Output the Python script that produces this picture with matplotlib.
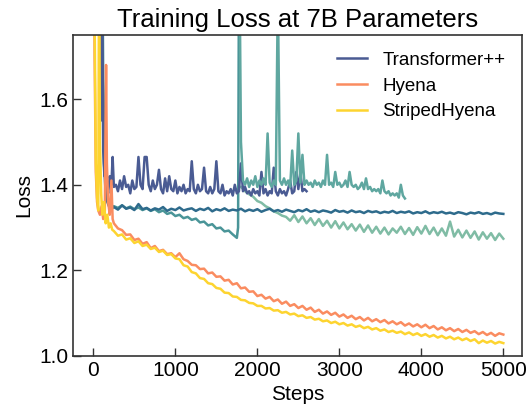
import numpy as np
import matplotlib.pyplot as plt

plt.rcParams['font.family'] = ['Liberation Sans', 'DejaVu Sans']

# ---- data (steps, loss) ----
# Transformer++ (navy, shown in legend)
tpp_steps = [60, 75, 90, 105, 120, 135, 150, 165, 180, 200, 220, 235] + list(range(250, 2601, 25))
tpp_loss = [2.2, 1.75, 1.55, 1.90, 1.48, 1.42, 1.46, 1.40, 1.38, 1.42, 1.40, 1.465,
            1.395, 1.400, 1.385, 1.410, 1.390, 1.420, 1.395, 1.400, 1.380, 1.410,
            1.390, 1.395, 1.465, 1.400, 1.390, 1.465, 1.465, 1.400, 1.385, 1.410,
            1.390, 1.400, 1.435, 1.390, 1.380, 1.415, 1.385, 1.420, 1.390, 1.385,
            1.410, 1.380, 1.395, 1.385, 1.400, 1.380, 1.390, 1.385, 1.455, 1.390,
            1.380, 1.400, 1.385, 1.390, 1.440, 1.385, 1.380, 1.395, 1.380, 1.390,
            1.455, 1.385, 1.380, 1.400, 1.375, 1.385, 1.380, 1.390, 1.375, 1.400,
            1.380, 1.385, 1.450, 1.385, 1.395, 1.380, 1.385, 1.375, 1.390, 1.380,
            1.385, 1.375, 1.430, 1.380, 1.390, 1.375, 1.385, 1.380, 1.440, 1.385,
            1.375, 1.390, 1.380, 1.385, 1.375, 1.390, 1.410, 1.380, 1.385, 1.430,
            1.390, 1.430, 1.385, 1.390, 1.385]

# other Transformer++ runs (teal shades, no legend entry)
run_b_steps = [90, 110, 130, 150, 170, 190, 210, 230] + list(range(250, 5001, 50))
run_b_loss = [2.2, 1.70, 1.45, 1.38, 1.36, 1.35, 1.355, 1.345,
              1.348, 1.342, 1.352, 1.344, 1.347, 1.341, 1.355, 1.343, 1.346, 1.340,
              1.345, 1.342, 1.348, 1.339, 1.344, 1.341, 1.347, 1.340, 1.343, 1.345,
              1.339, 1.344, 1.341, 1.346, 1.338, 1.343, 1.340, 1.345, 1.339, 1.342,
              1.340, 1.344, 1.338, 1.342, 1.339, 1.343, 1.337, 1.341, 1.344, 1.338,
              1.341, 1.337, 1.342, 1.339, 1.336, 1.341, 1.338, 1.343, 1.337, 1.340,
              1.336, 1.340, 1.338, 1.335, 1.341, 1.337, 1.339, 1.335, 1.340, 1.336,
              1.338, 1.334, 1.339, 1.336, 1.338, 1.334, 1.337, 1.335, 1.339, 1.334,
              1.337, 1.335, 1.338, 1.333, 1.336, 1.334, 1.338, 1.333, 1.336, 1.334,
              1.337, 1.333, 1.335, 1.332, 1.336, 1.334, 1.331, 1.335, 1.333, 1.336,
              1.332, 1.334, 1.331, 1.335, 1.333, 1.332]

run_c_steps = [100, 120, 140, 160, 180, 200, 225] + list(range(250, 1751, 50)) + [1765, 1775]
run_c_loss = [2.2, 1.65, 1.45, 1.38, 1.36, 1.35, 1.35,
              1.350, 1.346, 1.352, 1.345, 1.349, 1.343, 1.347, 1.341, 1.345, 1.339,
              1.343, 1.336, 1.340, 1.332, 1.335, 1.327, 1.330, 1.322, 1.325, 1.318,
              1.321, 1.312, 1.314, 1.305, 1.308, 1.298, 1.300, 1.291, 1.293, 1.284, 1.276,
              1.30, 1.85]

run_d_steps = [1785] + list(range(1800, 3801, 25))
run_d_loss = [1.85,
              1.50, 1.41, 1.40, 1.415, 1.395, 1.41, 1.40, 1.42, 1.395, 1.41,
              1.40, 1.415, 1.40, 1.52, 1.405, 1.395, 1.41, 1.40, 1.85, 1.41,
              1.40, 1.415, 1.40, 1.41, 1.395, 1.48, 1.40, 1.41, 1.52, 1.405,
              1.47, 1.40, 1.41, 1.40, 1.405, 1.395, 1.41, 1.40, 1.405, 1.395,
              1.41, 1.40, 1.47, 1.40, 1.405, 1.395, 1.43, 1.40, 1.405, 1.395,
              1.40, 1.41, 1.395, 1.43, 1.40, 1.395, 1.40, 1.39, 1.395, 1.405,
              1.39, 1.415, 1.39, 1.395, 1.385, 1.39, 1.385, 1.39, 1.38, 1.41,
              1.385, 1.38, 1.385, 1.375, 1.38, 1.375, 1.38, 1.37, 1.40, 1.375,
              1.368]

run_e_steps = list(range(1800, 5001, 50))
run_e_loss = [1.395, 1.385, 1.378, 1.372, 1.362, 1.358, 1.350, 1.345, 1.338, 1.334,
              1.328, 1.325, 1.316, 1.329, 1.313, 1.326, 1.310, 1.322, 1.306, 1.320,
              1.304, 1.316, 1.300, 1.315, 1.298, 1.312, 1.296, 1.308, 1.293, 1.307,
              1.290, 1.305, 1.288, 1.302, 1.286, 1.300, 1.284, 1.298, 1.288, 1.302,
              1.285, 1.299, 1.283, 1.301, 1.286, 1.304, 1.285, 1.300, 1.282, 1.298,
              1.281, 1.314, 1.279, 1.295, 1.277, 1.293, 1.276, 1.291, 1.272, 1.289,
              1.274, 1.287, 1.271, 1.286, 1.274]

hyena_steps = [0, 15, 30, 45, 60, 80, 100, 120, 140, 155, 165, 180, 200, 220, 235] + list(range(250, 5001, 50))
hyena_loss = [2.3, 1.70, 1.43, 1.36, 1.34, 1.33, 1.35, 1.32, 1.34, 1.68, 1.45, 1.36, 1.33, 1.41, 1.32,
              1.310, 1.298, 1.294, 1.283, 1.284, 1.271, 1.274, 1.262, 1.266, 1.252,
              1.257, 1.245, 1.248, 1.238, 1.240, 1.231, 1.240, 1.226, 1.222, 1.213,
              1.212, 1.203, 1.204, 1.193, 1.195, 1.185, 1.186, 1.176, 1.178, 1.167,
              1.170, 1.158, 1.160, 1.150, 1.151, 1.140, 1.143, 1.134, 1.138, 1.128,
              1.132, 1.122, 1.127, 1.117, 1.121, 1.112, 1.117, 1.108, 1.113, 1.103,
              1.108, 1.099, 1.104, 1.096, 1.101, 1.092, 1.097, 1.089, 1.094, 1.086,
              1.091, 1.083, 1.089, 1.081, 1.086, 1.079, 1.084, 1.076, 1.081, 1.074,
              1.079, 1.071, 1.076, 1.069, 1.074, 1.067, 1.073, 1.065, 1.070, 1.062,
              1.067, 1.060, 1.065, 1.058, 1.063, 1.056, 1.061, 1.054, 1.058, 1.051,
              1.056, 1.049, 1.054, 1.047, 1.053, 1.050]

striped_steps = [0, 15, 30, 45, 60, 70, 80, 95, 110, 130, 150, 170, 190, 210, 230] + list(range(250, 5001, 50))
striped_loss = [2.3, 1.80, 1.45, 1.37, 1.34, 1.95, 1.50, 1.38, 1.33, 1.36, 1.31, 1.33, 1.30, 1.31, 1.295,
                1.292, 1.281, 1.284, 1.272, 1.275, 1.264, 1.268, 1.257, 1.260, 1.250,
                1.253, 1.243, 1.246, 1.236, 1.238, 1.228, 1.226, 1.212, 1.209, 1.196,
                1.193, 1.182, 1.180, 1.170, 1.168, 1.159, 1.157, 1.148, 1.147, 1.139,
                1.138, 1.131, 1.130, 1.124, 1.123, 1.117, 1.117, 1.111, 1.112, 1.106,
                1.107, 1.101, 1.103, 1.097, 1.099, 1.093, 1.095, 1.089, 1.091, 1.085,
                1.087, 1.081, 1.083, 1.077, 1.080, 1.074, 1.077, 1.071, 1.074, 1.068,
                1.071, 1.065, 1.068, 1.062, 1.065, 1.059, 1.062, 1.056, 1.059, 1.054,
                1.057, 1.051, 1.055, 1.049, 1.053, 1.047, 1.051, 1.045, 1.049, 1.043,
                1.047, 1.041, 1.045, 1.039, 1.043, 1.037, 1.041, 1.035, 1.039, 1.030,
                1.036, 1.031, 1.035, 1.029, 1.033, 1.030]

fig = plt.figure(figsize=(5.28, 4.12), dpi=100)
ax = fig.add_axes([0.138, 0.136, 0.851, 0.779])

lw = 1.8
ax.plot(run_e_steps, run_e_loss, color='#80bca5', lw=lw)
ax.plot(run_c_steps, run_c_loss, color='#4a9598', lw=lw)
ax.plot(run_b_steps, run_b_loss, color='#2e6b8c', lw=lw)
ax.plot(tpp_steps, tpp_loss, color='#4a5b93', lw=lw, label='Transformer++')
ax.plot(run_d_steps, run_d_loss, color='#5fa7a0', lw=lw)
ax.plot(hyena_steps, hyena_loss, color='#fa8c60', lw=lw, label='Hyena')
ax.plot(striped_steps, striped_loss, color='#fdd430', lw=lw, label='StripedHyena')

ax.set_xlim(-250, 5230)
ax.set_ylim(1.0, 1.75)
ax.set_xticks([0, 1000, 2000, 3000, 4000, 5000])
ax.set_yticks([1.0, 1.2, 1.4, 1.6])
ax.tick_params(direction='in', length=5.5, width=1, labelsize=15, colors='#333333', labelcolor='black')
for s in ax.spines.values():
    s.set_color('#333333')
    s.set_linewidth(1.2)

ax.set_xlabel('Steps', fontsize=15)
ax.set_ylabel('Loss', fontsize=15)
ax.set_title('Training Loss at 7B Parameters', fontsize=18.5)

ax.legend(loc='upper right', frameon=False, fontsize=13.5, handlelength=1.6,
          handletextpad=0.8, labelspacing=0.45)

fig.savefig('out.png', dpi=100)
